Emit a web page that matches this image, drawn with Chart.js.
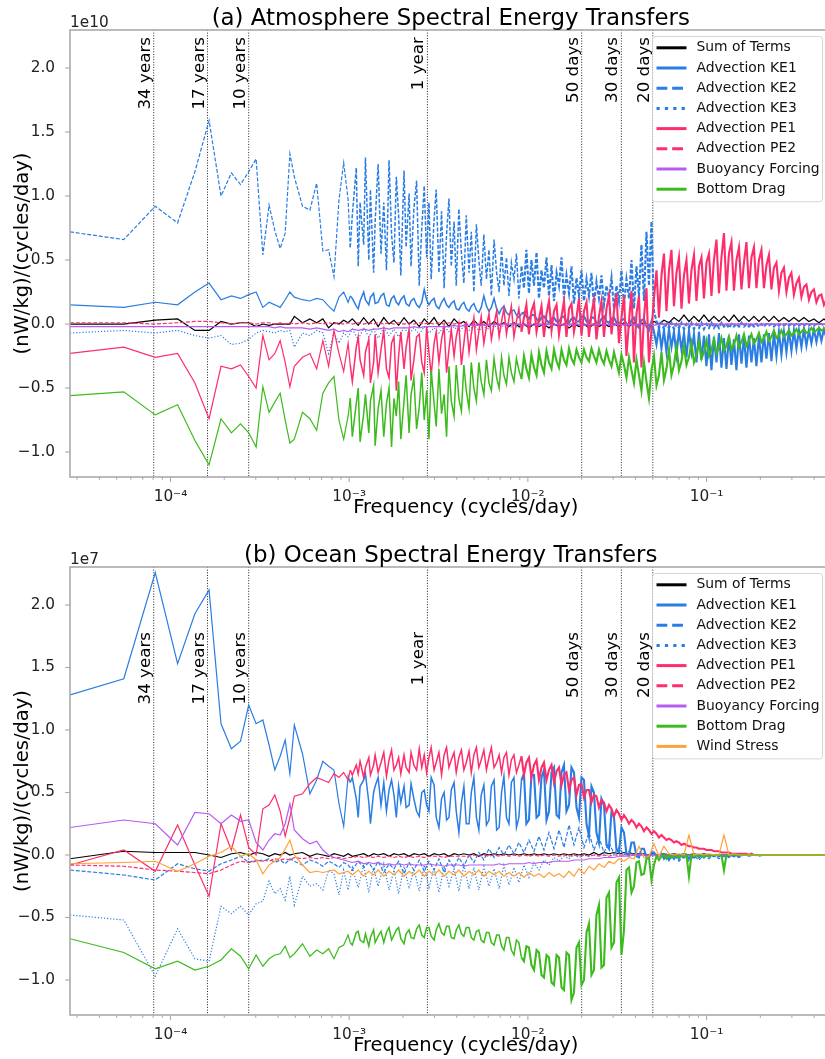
<!DOCTYPE html>
<html>
<head>
<meta charset="utf-8">
<script src="https://cdn.jsdelivr.net/npm/chart.js@4.4.0/dist/chart.umd.min.js"></script>
<style>
  html, body { margin: 0; padding: 0; background: #fff; overflow: hidden; }
  #wrap { width: 825px; height: 1059px; overflow: hidden; }
  canvas { display: block; }
</style>
</head>
<body>
<div id="wrap">
  <canvas id="atm" width="845" height="530"></canvas>
  <canvas id="ocn" width="845" height="529"></canvas>
</div>
<script>
// spectral transfers on a 100-year daily record: frequency = harmonic / recordDays
const recordDays = 36500;

// coarse grid for the quieter terms
const harmonics = [
  1, 2, 3, 4, 5, 6, 7, 8, 9, 10,
  11, 12, 13, 14, 15, 16, 17, 18, 20, 22,
  24, 26, 28, 30, 32, 34, 36, 38, 41, 44,
  47, 50, 53, 57, 61, 65, 69, 74, 79, 84,
  90, 96, 102, 109, 116, 124, 132, 141, 150, 160,
  171, 182, 194, 207, 221, 236, 252, 268, 286, 305,
  325, 347, 370, 395, 421, 449, 479, 511, 545, 581,
  620, 661, 705, 752, 802, 855, 912, 973, 1038, 1107,
  1180, 1259, 1343, 1432, 1527, 1629, 1737, 1853, 1976, 2107,
  2248, 2397, 2557, 2727, 2908, 3102, 3308, 3528, 3763, 4013,
  4280, 4565, 4868, 5192, 5538, 5906, 6299, 6718, 7165, 7641,
  8150, 8692, 9270, 9887, 10544, 11246, 11994, 12792, 13643, 14550,
  15518, 16550, 17650, 18250
];

// finer grid for the terms with broad noisy bands
const harmonicsFine = [
  1, 2, 3, 4, 5, 6, 7, 8, 9, 10,
  11, 12, 13, 14, 15, 16, 17, 18, 20, 22,
  24, 26, 28, 30, 32, 34, 36, 37, 38, 40,
  41, 42, 44, 45, 47, 48, 50, 51, 53, 55,
  57, 59, 61, 63, 65, 67, 69, 71, 74, 76,
  79, 81, 84, 87, 90, 93, 96, 99, 102, 105,
  109, 112, 116, 120, 124, 128, 132, 136, 141, 145,
  150, 155, 160, 165, 171, 176, 182, 188, 194, 200,
  207, 214, 221, 228, 236, 244, 252, 260, 268, 277,
  286, 295, 305, 315, 325, 336, 347, 358, 370, 382,
  395, 408, 421, 435, 449, 464, 479, 495, 511, 528,
  545, 563, 581, 600, 620, 640, 661, 683, 705, 728,
  752, 777, 802, 828, 855, 883, 912, 942, 973, 1005,
  1038, 1072, 1107, 1143, 1180, 1219, 1259, 1300, 1343, 1387,
  1432, 1479, 1527, 1577, 1629, 1682, 1737, 1794, 1853, 1914,
  1976, 2041, 2107, 2176, 2248, 2321, 2397, 2476, 2557, 2641,
  2727, 2816, 2908, 3003, 3102, 3203, 3308, 3417, 3528, 3644,
  3763, 3886, 4013, 4145, 4280, 4420, 4565, 4714, 4868, 5028,
  5192, 5362, 5538, 5719, 5906, 6100, 6299, 6506, 6718, 6938,
  7165, 7400, 7641, 7892, 8150, 8417, 8692, 8977, 9270, 9574,
  9887, 10210, 10544, 10890, 11246, 11614, 11994, 12387, 12792, 13211,
  13643, 14089, 14550, 15027, 15518, 16026, 16550, 17092, 17650, 18250
];

const markerLabels = ['34 years', '17 years', '10 years', '1 year', '50 days', '30 days', '20 days'];
const markerPeriods = [34 * 365, 17 * 365, 10 * 365, 365, 50, 30, 20];   // days
const yTicks = [-1.0, -0.5, 0.0, 0.5, 1.0, 1.5, 2.0];
const xMajor = [1e-4, 1e-3, 1e-2, 1e-1];

// ---- (a) atmosphere, units of 1e10 ----
const atmSum = [
  0.00, 0.00, 0.03, 0.04, -0.05, -0.05, 0.02, 0.00, 0.01, 0.01,
  -0.02, 0.00, -0.01, 0.00, 0.00, 0.00, 0.00, 0.06, 0.01, 0.04,
  0.01, 0.04, -0.03, 0.01, 0.00, 0.03, 0.01, 0.04, -0.01, 0.05,
  0.00, 0.04, -0.02, 0.05, 0.00, 0.03, -0.01, 0.05, 0.00, 0.03,
  -0.02, 0.04, 0.00, 0.05, -0.01, 0.03, -0.02, 0.04, 0.00, 0.02,
  -0.02, 0.03, -0.01, 0.02, -0.02, 0.02, -0.01, 0.01, -0.02, 0.01,
  -0.02, 0.00, -0.03, 0.00, -0.02, 0.00, -0.03, 0.00, -0.02, 0.00,
  -0.03, 0.00, -0.02, 0.00, -0.03, 0.00, -0.02, 0.00, -0.02, 0.00,
  -0.02, 0.01, -0.02, 0.01, -0.01, 0.01, -0.01, 0.02, 0.00, 0.03,
  0.01, 0.05, 0.02, 0.07, 0.02, 0.06, 0.02, 0.07, 0.02, 0.06,
  0.02, 0.06, 0.02, 0.07, 0.02, 0.06, 0.02, 0.06, 0.02, 0.06,
  0.02, 0.06, 0.02, 0.05, 0.02, 0.05, 0.02, 0.05, 0.02, 0.04,
  0.01, 0.04, 0.01, 0.03
];
const atmKE1 = [
  0.15, 0.13, 0.17, 0.15, 0.25, 0.32, 0.19, 0.22, 0.20, 0.23,
  0.25, 0.13, 0.17, 0.15, 0.13, 0.19, 0.25, 0.21, 0.19, 0.18,
  0.20, 0.19, 0.14, 0.10, 0.21, 0.25, 0.17, 0.22, 0.20, 0.14,
  0.12, 0.18, 0.25, 0.19, 0.15, 0.21, 0.24, 0.16, 0.17, 0.22,
  0.24, 0.15, 0.14, 0.20, 0.22, 0.17, 0.15, 0.19, 0.22, 0.16,
  0.14, 0.18, 0.20, 0.15, 0.13, 0.17, 0.27, 0.19, 0.15, 0.18,
  0.20, 0.14, 0.12, 0.17, 0.20, 0.15, 0.13, 0.16, 0.18, 0.12,
  0.11, 0.15, 0.17, 0.12, 0.10, 0.14, 0.16, 0.11, 0.09, 0.13,
  0.22, 0.14, 0.10, 0.13, 0.20, 0.12, 0.08, 0.12, 0.14, 0.09,
  0.07, 0.10, 0.11, 0.07, 0.05, 0.08, 0.09, 0.06, 0.04, 0.07,
  0.07, 0.04, 0.02, 0.05, 0.06, 0.03, 0.01, 0.04, 0.05, 0.02,
  0.02, 0.05, 0.06, 0.02, 0.01, 0.04, 0.05, 0.02, 0.02, 0.06,
  0.06, 0.02, 0.01, 0.05, 0.05, 0.01, 0.00, 0.04, 0.06, 0.02,
  0.01, 0.04, 0.05, 0.01, 0.00, 0.03, 0.04, 0.00, -0.02, 0.03,
  0.05, -0.01, -0.03, 0.03, 0.04, -0.02, -0.05, 0.02, -0.06, -0.16,
  -0.03, -0.19, -0.05, -0.22, -0.04, -0.18, -0.06, -0.24, -0.05, -0.20,
  -0.07, -0.26, -0.05, -0.22, -0.08, -0.30, -0.06, -0.28, -0.09, -0.33,
  -0.08, -0.36, -0.10, -0.30, -0.07, -0.34, -0.11, -0.35, -0.09, -0.32,
  -0.12, -0.36, -0.08, -0.31, -0.10, -0.34, -0.09, -0.30, -0.11, -0.33,
  -0.09, -0.30, -0.08, -0.27, -0.07, -0.29, -0.07, -0.25, -0.06, -0.24,
  -0.06, -0.22, -0.05, -0.21, -0.05, -0.19, -0.05, -0.18, -0.04, -0.17,
  -0.05, -0.15, -0.04, -0.14, -0.04, -0.13, -0.04, -0.11, -0.05, -0.10
];
const atmKE2 = [
  0.72, 0.66, 0.92, 0.79, 1.19, 1.59, 1.00, 1.18, 1.09, 1.19,
  1.29, 0.54, 0.93, 0.73, 0.59, 0.71, 1.33, 1.15, 0.92, 0.89,
  1.10, 0.57, 0.58, 0.37, 0.97, 1.26, 0.97, 0.60, 0.85, 1.22,
  0.45, 0.95, 0.62, 1.30, 0.50, 1.05, 0.40, 0.80, 1.25, 0.55,
  0.95, 0.42, 1.28, 0.70, 0.48, 1.15, 0.85, 0.38, 1.20, 0.60,
  1.02, 0.45, 0.90, 1.12, 0.30, 0.75, 1.08, 0.52, 0.95, 0.35,
  0.82, 1.05, 0.40, 0.88, 0.28, 0.70, 0.98, 0.45, 0.80, 0.30,
  0.90, 0.55, 0.32, 0.85, 0.40, 0.72, 0.25, 0.78, 0.50, 0.30,
  0.70, 0.35, 0.58, 0.22, 0.66, 0.40, 0.25, 0.60, 0.30, 0.52,
  0.22, 0.48, 0.35, 0.55, 0.20, 0.45, 0.28, 0.58, 0.24, 0.50,
  0.30, 0.56, 0.20, 0.42, 0.28, 0.52, 0.22, 0.46, 0.18, 0.40,
  0.30, 0.52, 0.20, 0.38, 0.24, 0.45, 0.16, 0.36, 0.22, 0.42,
  0.18, 0.35, 0.22, 0.40, 0.14, 0.33, 0.20, 0.38, 0.15, 0.30,
  0.20, 0.36, 0.12, 0.30, 0.18, 0.42, 0.15, 0.35, 0.20, 0.50,
  0.12, 0.45, 0.22, 0.62, 0.18, 0.72, 0.30, 0.80, 0.10, 0.02,
  -0.03, 0.01, -0.04, 0.00, -0.03, 0.01, -0.04, 0.00, -0.03, 0.01,
  -0.04, 0.00, -0.03, 0.01, -0.04, 0.00, -0.03, 0.01, -0.04, 0.00,
  -0.03, 0.01, -0.03, 0.00, -0.03, 0.01, -0.02, 0.00, -0.03, 0.00,
  -0.02, 0.00, -0.02, 0.01, -0.02, 0.00, -0.02, 0.00, -0.02, 0.00,
  -0.02, 0.00, -0.02, 0.00, -0.01, 0.00, -0.02, 0.00, -0.01, 0.00,
  -0.01, 0.00, -0.01, 0.00, -0.01, 0.00, -0.01, 0.00, -0.01, 0.00,
  -0.01, 0.00, -0.01, 0.00, 0.00, 0.00, -0.01, 0.00, 0.00, 0.00
];
const atmKE3 = [
  -0.07, -0.05, -0.07, -0.05, -0.09, -0.11, -0.09, -0.16, -0.15, -0.12,
  -0.07, -0.05, -0.06, -0.07, -0.05, -0.06, -0.05, -0.18, -0.07, -0.09,
  -0.05, -0.07, -0.23, -0.07, -0.15, -0.07, -0.10, -0.04, -0.12, -0.03,
  -0.10, -0.04, -0.11, -0.03, -0.09, -0.04, -0.10, -0.03, -0.08, -0.03,
  -0.08, -0.02, -0.07, -0.03, -0.07, -0.02, -0.06, -0.02, -0.06, -0.02,
  -0.05, -0.01, -0.05, -0.02, -0.04, -0.01, -0.04, -0.01, -0.03, -0.01,
  -0.03, 0.00, -0.02, 0.00, -0.02, 0.00, -0.02, 0.00, -0.01, 0.00,
  -0.01, 0.00, -0.01, 0.00, -0.01, 0.00, -0.01, 0.00, -0.01, 0.00,
  -0.01, 0.00, -0.01, 0.00, -0.01, 0.00, -0.01, 0.00, -0.01, 0.00,
  -0.01, 0.00, -0.01, 0.00, -0.01, 0.00, -0.01, 0.00, -0.01, 0.00,
  -0.01, 0.00, -0.01, 0.00, -0.01, 0.00, -0.01, 0.00, -0.01, 0.00,
  0.00, 0.00, 0.00, 0.00, 0.00, 0.00, 0.00, 0.00, 0.00, 0.00,
  0.00, 0.00, 0.00, 0.00
];
const atmPE1 = [
  -0.23, -0.18, -0.26, -0.23, -0.46, -0.74, -0.33, -0.35, -0.32, -0.41,
  -0.50, -0.09, -0.28, -0.23, -0.13, -0.30, -0.49, -0.33, -0.26, -0.23,
  -0.35, -0.13, -0.33, -0.05, -0.23, -0.37, -0.15, -0.32, -0.45, -0.18,
  -0.10, -0.28, -0.40, -0.22, -0.12, -0.46, -0.30, -0.08, -0.38, -0.20,
  -0.05, -0.35, -0.42, -0.15, -0.10, -0.52, -0.25, -0.06, -0.35, -0.18,
  -0.04, -0.44, -0.28, -0.10, -0.08, -0.30, -0.38, -0.02, -0.22, -0.40,
  -0.15, -0.06, -0.30, -0.12, -0.02, -0.38, -0.20, -0.04, -0.25, -0.10,
  0.00, -0.32, -0.15, 0.02, -0.22, -0.08, 0.05, -0.20, -0.06, 0.06,
  -0.15, -0.02, 0.08, -0.12, 0.00, 0.10, -0.10, 0.02, 0.12, -0.08,
  0.04, 0.14, -0.10, 0.02, 0.12, -0.06, 0.05, 0.15, -0.08, 0.10,
  0.16, -0.06, 0.04, 0.14, -0.10, 0.08, 0.18, -0.05, 0.10, 0.15,
  -0.08, 0.06, 0.18, -0.10, 0.12, 0.16, -0.06, 0.05, 0.20, -0.09,
  0.10, 0.17, -0.10, 0.08, 0.19, -0.12, 0.06, 0.18, -0.10, 0.12,
  0.22, -0.08, 0.10, 0.24, -0.15, 0.05, 0.22, -0.25, 0.02, 0.26,
  -0.30, 0.08, 0.22, -0.34, 0.05, 0.28, -0.30, -0.05, 0.20, 0.42,
  0.05, 0.38, 0.55, 0.10, 0.42, 0.58, 0.14, 0.40, 0.52, 0.12,
  0.38, 0.50, 0.16, 0.42, 0.54, 0.18, 0.45, 0.52, 0.20, 0.48,
  0.55, 0.22, 0.50, 0.66, 0.24, 0.52, 0.71, 0.26, 0.55, 0.64,
  0.26, 0.50, 0.60, 0.27, 0.48, 0.64, 0.28, 0.52, 0.60, 0.28,
  0.50, 0.58, 0.28, 0.46, 0.54, 0.27, 0.44, 0.48, 0.26, 0.40,
  0.44, 0.25, 0.36, 0.40, 0.23, 0.32, 0.36, 0.21, 0.29, 0.31,
  0.19, 0.25, 0.27, 0.17, 0.22, 0.23, 0.15, 0.19, 0.20, 0.14
];
const atmPE2 = [
  0.01, 0.01, 0.00, 0.01, 0.02, 0.02, 0.01, 0.00, 0.01, 0.01,
  0.00, 0.01, 0.01, 0.00, 0.01, 0.00, 0.01, 0.00, 0.01, 0.00,
  0.01, 0.00, 0.01, 0.00, 0.01, 0.00, 0.01, 0.00, 0.01, 0.00,
  0.01, 0.00, 0.01, 0.00, 0.01, 0.00, 0.01, 0.00, 0.01, 0.00,
  0.01, 0.00, 0.01, 0.00, 0.01, 0.00, 0.01, 0.00, 0.01, 0.00,
  0.00, 0.00, 0.00, 0.00, 0.00, 0.00, 0.00, 0.00, 0.00, 0.00,
  0.00, 0.00, 0.00, 0.00, 0.00, 0.00, 0.00, 0.00, 0.00, 0.00,
  0.00, 0.00, 0.00, 0.00, 0.00, 0.00, 0.00, 0.00, 0.00, 0.00,
  0.00, 0.00, 0.00, 0.00, 0.00, 0.00, 0.00, 0.00, 0.00, 0.00,
  0.00, 0.00, 0.00, 0.00, 0.00, 0.00, 0.00, 0.00, 0.00, 0.00,
  0.00, 0.00, 0.00, 0.00, 0.00, 0.00, 0.00, 0.00, 0.00, 0.00,
  0.00, 0.00, 0.00, 0.00, 0.00, 0.00, 0.00, 0.00, 0.00, 0.00,
  0.00, 0.00, 0.00, 0.00
];
const atmBuoy = [
  -0.02, -0.02, -0.02, -0.02, -0.02, -0.02, -0.02, -0.02, -0.02, -0.02,
  -0.02, -0.02, -0.02, -0.03, -0.02, -0.03, -0.03, -0.03, -0.03, -0.04,
  -0.03, -0.04, -0.05, -0.04, -0.06, -0.05, -0.06, -0.04, -0.05, -0.04,
  -0.05, -0.04, -0.04, -0.03, -0.04, -0.03, -0.03, -0.03, -0.03, -0.02,
  -0.03, -0.02, -0.02, -0.02, -0.02, -0.02, -0.02, -0.01, -0.02, -0.01,
  -0.01, -0.01, -0.01, -0.01, -0.01, 0.00, -0.01, 0.00, 0.00, 0.00,
  0.00, -0.01, 0.00, -0.01, 0.00, -0.01, 0.00, -0.01, 0.00, -0.01,
  0.00, -0.01, 0.00, -0.01, 0.00, -0.01, 0.00, -0.01, 0.00, -0.01,
  0.00, -0.01, 0.00, -0.01, 0.00, -0.01, 0.00, -0.01, 0.00, 0.00,
  0.00, 0.00, 0.00, 0.00, 0.00, 0.00, 0.00, 0.00, 0.00, 0.00,
  0.00, 0.00, 0.00, 0.00, 0.00, 0.00, 0.00, 0.00, 0.00, 0.00,
  0.00, 0.00, 0.00, 0.00, 0.00, 0.00, 0.00, 0.00, 0.00, 0.00,
  0.00, 0.00, 0.00, 0.00
];
const atmDrag = [
  -0.56, -0.53, -0.71, -0.63, -0.91, -1.10, -0.74, -0.85, -0.78, -0.85,
  -0.96, -0.49, -0.69, -0.61, -0.54, -0.75, -0.93, -0.90, -0.69, -0.74,
  -0.83, -0.54, -0.46, -0.41, -0.75, -0.90, -0.72, -0.58, -0.88, -0.62,
  -0.50, -0.92, -0.70, -0.55, -0.85, -0.60, -0.48, -0.95, -0.66, -0.52,
  -0.88, -0.62, -0.50, -0.96, -0.58, -0.72, -0.45, -0.90, -0.60, -0.40,
  -0.85, -0.55, -0.42, -0.82, -0.65, -0.38, -0.75, -0.52, -0.90, -0.36,
  -0.62, -0.80, -0.35, -0.70, -0.55, -0.88, -0.33, -0.60, -0.72, -0.32,
  -0.58, -0.68, -0.32, -0.52, -0.66, -0.30, -0.50, -0.60, -0.30, -0.45,
  -0.55, -0.28, -0.46, -0.52, -0.27, -0.42, -0.50, -0.26, -0.40, -0.47,
  -0.26, -0.38, -0.45, -0.27, -0.36, -0.43, -0.25, -0.35, -0.42, -0.24,
  -0.34, -0.40, -0.22, -0.32, -0.38, -0.21, -0.30, -0.35, -0.20, -0.29,
  -0.34, -0.20, -0.28, -0.32, -0.19, -0.27, -0.31, -0.20, -0.26, -0.30,
  -0.20, -0.26, -0.29, -0.19, -0.25, -0.30, -0.20, -0.27, -0.31, -0.21,
  -0.28, -0.33, -0.22, -0.30, -0.38, -0.24, -0.32, -0.42, -0.26, -0.36,
  -0.46, -0.28, -0.40, -0.52, -0.30, -0.45, -0.58, -0.36, -0.25, -0.48,
  -0.40, -0.22, -0.44, -0.35, -0.20, -0.40, -0.32, -0.18, -0.36, -0.29,
  -0.17, -0.32, -0.26, -0.15, -0.30, -0.24, -0.14, -0.27, -0.22, -0.13,
  -0.25, -0.20, -0.12, -0.23, -0.18, -0.11, -0.21, -0.17, -0.10, -0.20,
  -0.16, -0.09, -0.18, -0.14, -0.08, -0.17, -0.13, -0.08, -0.15, -0.12,
  -0.07, -0.14, -0.11, -0.06, -0.13, -0.10, -0.05, -0.11, -0.09, -0.05,
  -0.10, -0.08, -0.05, -0.09, -0.07, -0.04, -0.08, -0.06, -0.04, -0.07,
  -0.06, -0.03, -0.06, -0.05, -0.03, -0.05, -0.04, -0.03, -0.05, -0.03
];

// ---- (b) ocean, units of 1e7 ----
const ocnSum = [
  -0.03, 0.03, 0.02, 0.02, 0.02, 0.00, -0.02, 0.01, 0.02, 0.00,
  0.02, 0.01, -0.01, 0.01, 0.00, 0.02, 0.00, 0.01, 0.02, -0.01,
  0.01, 0.00, -0.01, 0.01, 0.00, -0.01, 0.01, -0.01, 0.00, 0.01,
  -0.01, 0.01, 0.00, 0.01, -0.01, 0.01, 0.00, 0.01, -0.01, 0.01,
  0.00, 0.01, -0.01, 0.01, 0.00, 0.01, -0.01, 0.01, 0.00, 0.01,
  0.00, 0.01, -0.01, 0.01, 0.00, 0.01, 0.00, 0.01, 0.00, 0.01,
  0.00, 0.01, 0.00, 0.01, 0.00, 0.01, 0.00, 0.01, 0.00, 0.01,
  0.00, 0.01, 0.00, 0.01, 0.00, 0.02, 0.00, 0.02, 0.01, 0.02,
  0.01, 0.02, 0.01, 0.01, 0.01, 0.01, 0.00, 0.01, 0.00, 0.01,
  0.00, 0.01, 0.00, 0.01, 0.00, 0.01, 0.00, 0.01, 0.00, 0.00,
  0.00, 0.00, 0.00, 0.00, 0.00, 0.00, 0.00, 0.00, 0.00, 0.00,
  0.00, 0.00, 0.00, 0.00, 0.00, 0.00, 0.00, 0.00, 0.00, 0.00,
  0.00, 0.00, 0.00, 0.00
];
const ocnKE1 = [
  1.28, 1.41, 2.26, 1.53, 1.93, 2.12, 1.05, 0.85, 0.91, 1.20,
  1.05, 1.08, 0.88, 0.68, 0.79, 0.92, 0.65, 1.04, 0.81, 0.49,
  0.60, 0.75, 0.71, 0.68, 0.41, 0.23, 0.63, 0.58, 0.62, 0.45,
  0.30, 0.55, 0.60, 0.65, 0.42, 0.25, 0.50, 0.55, 0.62, 0.40,
  0.58, 0.35, 0.52, 0.60, 0.48, 0.30, 0.55, 0.42, 0.55, 0.38,
  0.40, 0.57, 0.45, 0.35, 0.31, 0.50, 0.52, 0.40, 0.35, 0.62,
  0.56, 0.30, 0.22, 0.45, 0.50, 0.28, 0.30, 0.52, 0.58, 0.35,
  0.18, 0.42, 0.55, 0.25, 0.25, 0.50, 0.62, 0.30, 0.20, 0.48,
  0.56, 0.24, 0.28, 0.55, 0.60, 0.20, 0.22, 0.50, 0.63, 0.30,
  0.25, 0.58, 0.62, 0.22, 0.30, 0.60, 0.65, 0.25, 0.28, 0.64,
  0.64, 0.30, 0.32, 0.62, 0.68, 0.28, 0.35, 0.66, 0.70, 0.32,
  0.30, 0.66, 0.72, 0.35, 0.40, 0.70, 0.66, 0.38, 0.30, 0.62,
  0.60, 0.25, 0.15, 0.55, 0.50, 0.18, 0.10, 0.45, 0.40, 0.08,
  0.05, 0.35, 0.30, 0.04, 0.02, 0.22, 0.18, 0.01, 0.00, 0.10,
  0.10, -0.01, -0.02, 0.05, 0.05, -0.02, -0.02, 0.02, 0.02, -0.01,
  -0.01, 0.01, -0.03, 0.00, -0.04, 0.00, -0.03, 0.00, -0.03, 0.00,
  -0.02, 0.00, -0.03, 0.00, -0.02, 0.00, -0.02, 0.00, -0.02, 0.00,
  -0.01, 0.00, -0.01, 0.00, -0.01, 0.00, -0.01, 0.00, -0.01, 0.00,
  -0.01, 0.00, -0.01, 0.00, 0.00, 0.00, 0.00, 0.00, 0.00, 0.00,
  0.00, 0.00, 0.00, 0.00, 0.00, 0.00, 0.00, 0.00, 0.00, 0.00,
  0.00, 0.00, 0.00, 0.00, 0.00, 0.00, 0.00, 0.00, 0.00, 0.00,
  0.00, 0.00, 0.00, 0.00, 0.00, 0.00, 0.00, 0.00, 0.00, 0.00
];
const ocnKE2 = [
  -0.12, -0.16, -0.20, -0.07, -0.11, -0.13, -0.07, -0.04, -0.01, -0.06,
  -0.04, -0.05, -0.03, -0.06, -0.04, -0.07, -0.03, -0.05, -0.08, -0.04,
  -0.06, -0.09, -0.05, -0.07, -0.10, -0.06, -0.08, -0.12, -0.05, -0.10,
  -0.06, -0.12, -0.05, -0.14, -0.07, -0.11, -0.05, -0.15, -0.06, -0.12,
  -0.04, -0.13, -0.05, -0.12, -0.03, -0.14, -0.04, -0.10, -0.02, -0.09,
  0.00, -0.06, 0.02, -0.04, 0.05, -0.02, 0.06, 0.00, 0.08, 0.01,
  0.10, 0.02, 0.12, 0.03, 0.15, 0.04, 0.18, 0.05, 0.20, 0.06,
  0.24, 0.08, 0.22, 0.06, 0.18, 0.04, 0.14, 0.02, 0.10, 0.01,
  0.06, 0.00, 0.03, 0.00, 0.01, 0.00, 0.00, 0.00, 0.00, 0.00,
  -0.04, 0.00, -0.05, -0.01, -0.05, -0.01, -0.04, 0.00, -0.03, 0.00,
  -0.03, 0.00, -0.02, 0.00, -0.02, 0.00, -0.01, 0.00, -0.01, 0.00,
  0.00, 0.00, 0.00, 0.00, 0.00, 0.00, 0.00, 0.00, 0.00, 0.00,
  0.00, 0.00, 0.00, 0.00
];
const ocnKE3 = [
  -0.48, -0.52, -0.97, -0.59, -0.83, -0.85, -0.41, -0.47, -0.41, -0.48,
  -0.39, -0.37, -0.21, -0.31, -0.27, -0.36, -0.17, -0.40, -0.17, -0.25,
  -0.23, -0.28, -0.12, -0.15, -0.32, -0.12, -0.28, -0.10, -0.26, -0.08,
  -0.30, -0.10, -0.25, -0.07, -0.28, -0.12, -0.31, -0.09, -0.27, -0.11,
  -0.29, -0.08, -0.26, -0.10, -0.30, -0.09, -0.25, -0.11, -0.29, -0.08,
  -0.27, -0.10, -0.28, -0.09, -0.25, -0.11, -0.27, -0.08, -0.24, -0.10,
  -0.22, -0.08, -0.18, -0.06, -0.12, -0.04, -0.08, -0.02, -0.05, -0.01,
  -0.03, 0.00, -0.02, 0.00, -0.01, 0.00, 0.00, 0.00, 0.00, 0.00,
  0.00, 0.00, 0.00, 0.00, 0.00, 0.00, 0.00, 0.00, 0.00, 0.00,
  0.00, 0.00, 0.00, 0.00, 0.00, 0.00, 0.00, 0.00, 0.00, 0.00,
  0.00, 0.00, 0.00, 0.00, 0.00, 0.00, 0.00, 0.00, 0.00, 0.00,
  0.00, 0.00, 0.00, 0.00, 0.00, 0.00, 0.00, 0.00, 0.00, 0.00,
  0.00, 0.00, 0.00, 0.00
];
const ocnPE1 = [
  -0.08, 0.04, -0.13, 0.24, -0.08, -0.33, 0.25, 0.04, 0.32, 0.06,
  0.00, 0.37, 0.40, 0.48, 0.35, 0.15, 0.30, 0.47, 0.49, 0.57,
  0.62, 0.60, 0.58, 0.65, 0.62, 0.66, 0.60, 0.68, 0.64, 0.72,
  0.65, 0.75, 0.62, 0.70, 0.78, 0.64, 0.72, 0.80, 0.66, 0.74,
  0.82, 0.63, 0.76, 0.84, 0.68, 0.72, 0.78, 0.65, 0.80, 0.70,
  0.66, 0.82, 0.72, 0.68, 0.85, 0.70, 0.80, 0.66, 0.78, 0.86,
  0.68, 0.74, 0.82, 0.64, 0.80, 0.86, 0.70, 0.76, 0.82, 0.66,
  0.78, 0.84, 0.68, 0.74, 0.83, 0.66, 0.80, 0.86, 0.70, 0.76,
  0.84, 0.68, 0.78, 0.86, 0.70, 0.74, 0.80, 0.66, 0.78, 0.82,
  0.64, 0.76, 0.80, 0.66, 0.72, 0.79, 0.64, 0.74, 0.78, 0.62,
  0.72, 0.76, 0.60, 0.70, 0.74, 0.60, 0.68, 0.72, 0.58, 0.67,
  0.70, 0.56, 0.64, 0.66, 0.52, 0.60, 0.62, 0.48, 0.56, 0.57,
  0.46, 0.52, 0.52, 0.42, 0.48, 0.47, 0.38, 0.44, 0.42, 0.35,
  0.40, 0.37, 0.31, 0.36, 0.33, 0.28, 0.32, 0.29, 0.25, 0.28,
  0.26, 0.22, 0.25, 0.23, 0.19, 0.22, 0.20, 0.17, 0.19, 0.17,
  0.14, 0.16, 0.14, 0.12, 0.13, 0.12, 0.10, 0.11, 0.10, 0.08,
  0.09, 0.08, 0.07, 0.07, 0.06, 0.06, 0.05, 0.05, 0.05, 0.04,
  0.04, 0.04, 0.03, 0.03, 0.03, 0.02, 0.02, 0.02, 0.02, 0.01,
  0.01, 0.01, 0.01, 0.01, 0.01, 0.01, 0.00, 0.01, 0.00, 0.00,
  0.00, 0.00, 0.00, 0.00, 0.00, 0.00, 0.00, 0.00, 0.00, 0.00,
  0.00, 0.00, 0.00, 0.00, 0.00, 0.00, 0.00, 0.00, 0.00, 0.00,
  0.00, 0.00, 0.00, 0.00, 0.00, 0.00, 0.00, 0.00, 0.00, 0.00
];
const ocnPE2 = [
  -0.08, -0.09, -0.12, -0.13, -0.14, -0.15, -0.12, -0.08, -0.05, -0.06,
  -0.05, -0.04, -0.05, -0.03, -0.04, -0.03, -0.04, -0.02, -0.03, -0.02,
  -0.03, -0.02, -0.03, -0.02, -0.02, -0.03, -0.02, -0.02, -0.01, -0.02,
  -0.01, -0.02, -0.01, -0.02, -0.01, -0.02, -0.01, -0.02, -0.01, -0.02,
  -0.01, -0.02, -0.01, -0.01, -0.01, -0.02, -0.01, -0.01, -0.01, -0.01,
  -0.01, 0.00, -0.01, 0.00, -0.01, 0.00, -0.01, 0.00, -0.01, 0.00,
  -0.01, 0.00, -0.01, 0.00, -0.01, 0.00, -0.01, 0.00, -0.01, 0.00,
  -0.01, 0.00, -0.01, 0.00, -0.01, 0.00, -0.01, 0.00, -0.01, 0.00,
  0.00, 0.00, 0.00, 0.00, 0.00, 0.00, 0.00, 0.00, 0.00, 0.00,
  0.00, 0.00, 0.00, 0.00, 0.00, 0.00, 0.00, 0.00, 0.00, 0.00,
  0.00, 0.00, 0.00, 0.00, 0.00, 0.00, 0.00, 0.00, 0.00, 0.00,
  0.00, 0.00, 0.00, 0.00, 0.00, 0.00, 0.00, 0.00, 0.00, 0.00,
  0.00, 0.00, 0.00, 0.00
];
const ocnBuoy = [
  0.22, 0.28, 0.25, 0.08, 0.34, 0.33, 0.25, 0.32, 0.27, 0.28,
  0.10, 0.04, 0.12, 0.17, 0.16, 0.25, 0.41, 0.20, 0.13, 0.09,
  0.11, 0.04, 0.00, -0.02, -0.03, -0.04, -0.05, -0.06, -0.05, -0.07,
  -0.06, -0.07, -0.06, -0.08, -0.07, -0.08, -0.07, -0.08, -0.07, -0.08,
  -0.08, -0.08, -0.07, -0.08, -0.08, -0.09, -0.08, -0.08, -0.08, -0.09,
  -0.08, -0.08, -0.08, -0.08, -0.08, -0.08, -0.07, -0.08, -0.07, -0.07,
  -0.07, -0.07, -0.06, -0.07, -0.06, -0.06, -0.06, -0.05, -0.05, -0.05,
  -0.05, -0.04, -0.04, -0.04, -0.03, -0.03, -0.03, -0.02, -0.02, -0.02,
  -0.01, -0.01, -0.01, 0.00, 0.00, 0.00, 0.00, 0.00, 0.00, 0.00,
  0.00, 0.00, 0.00, 0.00, 0.00, 0.00, 0.00, 0.00, 0.00, 0.00,
  0.00, 0.00, 0.00, 0.00, 0.00, 0.00, 0.00, 0.00, 0.00, 0.00,
  0.00, 0.00, 0.00, 0.00, 0.00, 0.00, 0.00, 0.00, 0.00, 0.00,
  0.00, 0.00, 0.00, 0.00
];
const ocnDrag = [
  -0.67, -0.78, -0.91, -0.85, -0.92, -0.89, -0.84, -0.75, -0.81, -0.91,
  -0.80, -0.89, -0.83, -0.80, -0.79, -0.73, -0.82, -0.79, -0.71, -0.81,
  -0.76, -0.79, -0.75, -0.83, -0.74, -0.72, -0.64, -0.70, -0.72, -0.62,
  -0.61, -0.68, -0.70, -0.63, -0.73, -0.66, -0.60, -0.70, -0.65, -0.61,
  -0.70, -0.62, -0.58, -0.68, -0.64, -0.60, -0.58, -0.67, -0.71, -0.63,
  -0.60, -0.66, -0.67, -0.59, -0.56, -0.64, -0.66, -0.58, -0.58, -0.65,
  -0.68, -0.60, -0.55, -0.62, -0.64, -0.57, -0.57, -0.66, -0.67, -0.60,
  -0.56, -0.63, -0.65, -0.58, -0.58, -0.66, -0.68, -0.61, -0.60, -0.68,
  -0.70, -0.62, -0.62, -0.70, -0.72, -0.64, -0.64, -0.73, -0.76, -0.66,
  -0.66, -0.76, -0.80, -0.68, -0.70, -0.82, -0.85, -0.73, -0.74, -0.88,
  -0.92, -0.76, -0.78, -0.96, -0.98, -0.80, -0.82, -1.02, -1.04, -0.80,
  -0.82, -1.06, -1.08, -0.78, -0.80, -1.16, -1.10, -0.74, -0.70, -1.04,
  -1.00, -0.62, -0.55, -0.96, -0.92, -0.48, -0.40, -0.90, -0.88, -0.34,
  -0.30, -0.74, -0.70, -0.22, -0.18, -0.80, -0.60, -0.12, -0.10, -0.30,
  -0.25, -0.06, -0.05, -0.16, -0.15, -0.03, -0.02, -0.20, -0.08, -0.01,
  -0.04, -0.01, 0.00, -0.03, 0.00, -0.02, -0.01, 0.00, -0.02, 0.00,
  -0.01, 0.00, -0.17, 0.00, -0.01, 0.00, -0.01, 0.00, -0.01, 0.00,
  -0.01, 0.00, 0.00, 0.00, 0.00, 0.00, -0.12, 0.00, 0.00, 0.00,
  0.00, 0.00, 0.00, 0.00, 0.00, 0.00, 0.00, 0.00, 0.00, 0.00,
  0.00, 0.00, 0.00, 0.00, 0.00, 0.00, 0.00, 0.00, 0.00, 0.00,
  0.00, 0.00, 0.00, 0.00, 0.00, 0.00, 0.00, 0.00, 0.00, 0.00,
  0.00, 0.00, 0.00, 0.00, 0.00, 0.00, 0.00, 0.00, 0.00, 0.00
];
const ocnWind = [
  -0.07, -0.06, -0.05, -0.13, -0.07, -0.01, 0.02, 0.07, -0.01, 0.01,
  -0.04, -0.15, -0.08, -0.05, -0.02, 0.05, 0.12, 0.00, -0.08, -0.14,
  -0.13, -0.14, -0.13, -0.12, -0.15, -0.14, -0.13, -0.16, -0.12, -0.17,
  -0.13, -0.16, -0.12, -0.17, -0.13, -0.16, -0.12, -0.17, -0.13, -0.16,
  -0.12, -0.17, -0.13, -0.16, -0.12, -0.17, -0.13, -0.16, -0.12, -0.17,
  -0.13, -0.16, -0.12, -0.17, -0.13, -0.16, -0.13, -0.17, -0.14, -0.17,
  -0.14, -0.18, -0.14, -0.17, -0.15, -0.18, -0.14, -0.17, -0.15, -0.18,
  -0.13, -0.17, -0.11, -0.15, -0.09, -0.12, -0.07, -0.10, -0.05, -0.07,
  -0.03, -0.05, -0.02, -0.03, 0.07, -0.02, -0.01, 0.09, -0.01, 0.07,
  0.01, 0.00, 0.01, 0.00, 0.16, 0.00, 0.01, 0.00, 0.01, 0.00,
  0.00, 0.16, 0.00, 0.01, 0.00, 0.00, 0.00, 0.00, 0.00, 0.00,
  0.00, 0.00, 0.00, 0.00, 0.00, 0.00, 0.00, 0.00, 0.00, 0.00,
  0.00, 0.00, 0.00, 0.00
];

const colors = {
  sum: '#000000',
  ke: '#2a7de3',
  pe: '#fe2d6c',
  buoy: '#b65cf0',
  drag: '#3dbb1e',
  wind: '#ffa23c'
};
const dashed = [4, 1.8];
const dotted = [1.2, 1.9];

Chart.defaults.font.family = '"DejaVu Sans"';
Chart.defaults.color = '#222';

// the dense high-frequency stretches of the fine-grid terms are stroked heavier
function bandWidth(ctx) {
  const f = ctx.p0.parsed.x;
  if (f >= 9e-3) return 2.1;
  if (f >= 1e-3) return 1.5;
  return 1.2;
}

function series(label, grid, values, color, dash, i) {
  const ds = {
    label: label,
    data: values.map((v, j) => ({ x: grid[j] / recordDays, y: v })),
    borderColor: color,
    borderWidth: 1.2,
    borderDash: dash,
    pointRadius: 0,
    tension: 0,
    fill: false,
    order: -i
  };
  if (grid === harmonicsFine) ds.segment = { borderWidth: bandWidth };
  return ds;
}

function powerLabel(v) {
  const sup = '⁰¹²³⁴⁵⁶⁷⁸⁹';
  const e = Math.round(Math.log10(v));
  return '10' + (e < 0 ? '⁻' : '') + String(Math.abs(e)).split('').map(d => sup[+d]).join('');
}

// period markers, frame, ticks, titles and the boxed legend
const decorPlugin = {
  id: 'decor',
  beforeDatasetsDraw(chart) {
    const { ctx, chartArea: a, scales } = chart;
    ctx.save();
    ctx.strokeStyle = '#222';
    ctx.lineWidth = 1;
    ctx.setLineDash([1, 1.65]);
    markerPeriods.forEach(p => {
      const px = scales.x.getPixelForValue(1 / p);
      ctx.beginPath();
      ctx.moveTo(px, a.top);
      ctx.lineTo(px, a.bottom);
      ctx.stroke();
    });
    ctx.restore();
  },
  afterDatasetsDraw(chart, args, o) {
    const { ctx, chartArea: a, scales } = chart;
    const xs = scales.x, ys = scales.y;
    ctx.save();

    // rotated period labels, top-aligned, sitting left of each line
    ctx.fillStyle = '#000';
    ctx.font = '16.7px "DejaVu Sans"';
    const top = ys.getPixelForValue(o.labelAt);
    markerPeriods.forEach((p, i) => {
      const px = xs.getPixelForValue(1 / p);
      ctx.save();
      ctx.translate(px, top);
      ctx.rotate(-Math.PI / 2);
      ctx.textAlign = 'right';
      ctx.textBaseline = 'bottom';
      ctx.fillText(markerLabels[i], 0, 0);
      ctx.restore();
    });

    // frame
    ctx.strokeStyle = '#aaaaaa';
    ctx.lineWidth = 1.6;
    ctx.setLineDash([]);
    ctx.strokeRect(a.left, a.top, a.right - a.left, a.bottom - a.top);

    // tick marks
    ctx.lineWidth = 1.1;
    yTicks.forEach(v => {
      const py = ys.getPixelForValue(v);
      ctx.beginPath();
      ctx.moveTo(a.left - 4.9, py);
      ctx.lineTo(a.left, py);
      ctx.stroke();
    });
    for (let e = -5; e <= -1; e++) {
      for (let m = 1; m <= 9; m++) {
        const v = m * Math.pow(10, e);
        if (v < xs.min || v > xs.max) continue;
        const px = xs.getPixelForValue(v);
        const len = m === 1 ? 4.9 : 2.8;
        ctx.beginPath();
        ctx.moveTo(px, a.bottom);
        ctx.lineTo(px, a.bottom + len);
        ctx.stroke();
      }
    }

    // titles
    const cx = (a.left + a.right) / 2;
    ctx.fillStyle = '#000';
    ctx.textAlign = 'center';
    ctx.textBaseline = 'alphabetic';
    ctx.font = '22.9px "DejaVu Sans"';
    ctx.fillText(o.title, cx, a.top - 5);
    ctx.font = '19.5px "DejaVu Sans"';
    ctx.fillText('Frequency (cycles/day)', cx + 15, a.bottom + 36);
    ctx.save();
    ctx.translate(28, (a.top + a.bottom) / 2);
    ctx.rotate(-Math.PI / 2);
    ctx.fillText('(nW/kg)/(cycles/day)', 0, 0);
    ctx.restore();
    ctx.textAlign = 'left';
    ctx.font = '15.3px "DejaVu Sans"';
    ctx.fillStyle = '#222';
    ctx.fillText(o.offset, a.left, a.top - 3);

    // legend
    const ds = chart.data.datasets;
    const rowH = 20.2;
    const bw = 170, bh = 11.3 + (ds.length - 1) * rowH + 12.5;
    const bx = a.right - 9 - bw, by = a.top + 6.5, r = 3;
    ctx.beginPath();
    ctx.moveTo(bx + r, by);
    ctx.arcTo(bx + bw, by, bx + bw, by + bh, r);
    ctx.arcTo(bx + bw, by + bh, bx, by + bh, r);
    ctx.arcTo(bx, by + bh, bx, by, r);
    ctx.arcTo(bx, by, bx + bw, by, r);
    ctx.closePath();
    ctx.fillStyle = 'rgba(255,255,255,0.8)';
    ctx.fill();
    ctx.strokeStyle = 'rgba(204,204,204,0.8)';
    ctx.lineWidth = 1;
    ctx.stroke();
    ctx.textBaseline = 'middle';
    ctx.font = '13.9px "DejaVu Sans"';
    ds.forEach((d, i) => {
      const cy = by + 11.3 + i * rowH;
      ctx.strokeStyle = d.borderColor;
      ctx.lineWidth = 3;
      ctx.setLineDash(d.borderDash.map(v => v * 2.7));
      ctx.beginPath();
      ctx.moveTo(bx + 4, cy);
      ctx.lineTo(bx + 34, cy);
      ctx.stroke();
      ctx.fillStyle = '#111';
      ctx.fillText(d.label, bx + 44, cy);
    });
    ctx.restore();
  }
};

function makeChart(id, datasets, yMin, yMax, padding, decor) {
  return new Chart(document.getElementById(id), {
    type: 'line',
    data: { datasets: datasets },
    options: {
      responsive: false,
      animation: false,
      devicePixelRatio: 1,
      events: [],
      layout: { padding: padding },
      plugins: {
        legend: { display: false },
        tooltip: { enabled: false },
        decor: decor
      },
      scales: {
        x: {
          type: 'logarithmic',
          min: 1 / recordDays,
          max: 0.5,
          grid: { display: false },
          border: { display: false },
          afterBuildTicks: s => { s.ticks = xMajor.map(v => ({ value: v })); },
          afterFit: s => { s.height = 40; },
          ticks: {
            autoSkip: false,
            maxRotation: 0,
            padding: 3,
            font: { size: 15.3 },
            callback: v => powerLabel(v)
          }
        },
        y: {
          type: 'linear',
          min: yMin,
          max: yMax,
          grid: { display: false },
          border: { display: false },
          afterBuildTicks: s => { s.ticks = yTicks.map(v => ({ value: v })); },
          afterFit: s => { s.width = 70; },
          ticks: {
            padding: 7,
            font: { size: 15.3 },
            callback: v => (v < 0 ? '−' : '') + Math.abs(v).toFixed(1)
          }
        }
      }
    },
    plugins: [decorPlugin]
  });
}

const atmChart = makeChart('atm', [
  series('Sum of Terms', harmonics, atmSum, colors.sum, [], 0),
  series('Advection KE1', harmonicsFine, atmKE1, colors.ke, [], 1),
  series('Advection KE2', harmonicsFine, atmKE2, colors.ke, dashed, 2),
  series('Advection KE3', harmonics, atmKE3, colors.ke, dotted, 3),
  series('Advection PE1', harmonicsFine, atmPE1, colors.pe, [], 4),
  series('Advection PE2', harmonics, atmPE2, colors.pe, dashed, 5),
  series('Buoyancy Forcing', harmonics, atmBuoy, colors.buoy, [], 6),
  series('Bottom Drag', harmonicsFine, atmDrag, colors.drag, [], 7)
], -1.195, 2.297, { left: 0, right: 13.5, top: 30, bottom: 13 },
  { title: '(a) Atmosphere Spectral Energy Transfers', offset: '1e10', labelAt: 2.242 });

const ocnChart = makeChart('ocn', [
  series('Sum of Terms', harmonics, ocnSum, colors.sum, [], 0),
  series('Advection KE1', harmonicsFine, ocnKE1, colors.ke, [], 1),
  series('Advection KE2', harmonics, ocnKE2, colors.ke, dashed, 2),
  series('Advection KE3', harmonics, ocnKE3, colors.ke, dotted, 3),
  series('Advection PE1', harmonicsFine, ocnPE1, colors.pe, [], 4),
  series('Advection PE2', harmonics, ocnPE2, colors.pe, dashed, 5),
  series('Buoyancy Forcing', harmonics, ocnBuoy, colors.buoy, [], 6),
  series('Bottom Drag', harmonicsFine, ocnDrag, colors.drag, [], 7),
  series('Wind Stress', harmonics, ocnWind, colors.wind, [], 8)
], -1.28, 2.304, { left: 0, right: 13.5, top: 37, bottom: 4 },
  { title: '(b) Ocean Spectral Energy Transfers', offset: '1e7', labelAt: 1.784 });
</script>
</body>
</html>
